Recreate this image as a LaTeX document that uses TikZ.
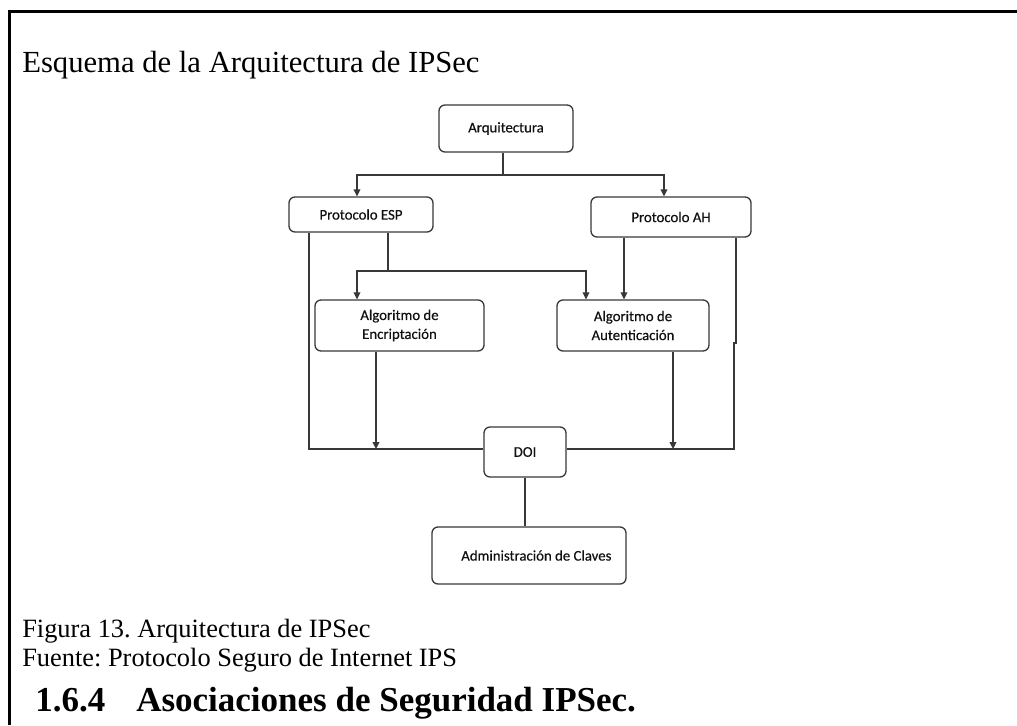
\documentclass[tikz,border=0pt]{standalone}
\usepackage{fontspec}
\setmainfont{Liberation Serif}
\newfontfamily\boxfont[FakeBold=0.35]{Carlito}
\usetikzlibrary{arrows.meta,calc}
\definecolor{linegray}{HTML}{383838}
\definecolor{boxtext}{HTML}{111111}
\frenchspacing
\begin{document}
\begin{tikzpicture}[x=0.75pt,y=-0.75pt,
  box/.style={draw=linegray, line width=1pt, rounded corners=4.5pt,
    font=\boxfont\fontsize{11.1}{14.2}\selectfont, align=center,
    inner sep=0pt, text=boxtext},
  link/.style={draw=linegray, line width=1pt},
  arr/.style={link, -{Triangle[length=5.2pt,width=5pt]}},
  txt/.style={anchor=base west, inner sep=0pt, text=black},
]
\useasboundingbox (0,0) rectangle (1017,725);
\fill[white] (0,0) rectangle (1017,725);
% page frame (top and left edges)
\draw[line width=1.9pt] (9.7,725) -- (9.7,11.5) -- (1017,11.5);

% headings and captions
\node[txt, font=\fontsize{23}{28}\selectfont] (title) at (22,72) {Esquema de la Arquitectura de IPSec};
\node[txt, font=\fontsize{19.8}{24}\selectfont] (cap) at (22,637) {Figura 13. Arquitectura de IPSec};
\node[txt, font=\fontsize{19.8}{24}\selectfont] (src) at (22,666) {Fuente: Protocolo Seguro de Internet IPS};
\node[txt, font=\bfseries\fontsize{26.25}{30}\selectfont] (secnum) at (35,711) {1.6.4};
\node[txt, font=\bfseries\fontsize{26.25}{30}\selectfont] (sectitle) at (136,711) {Asociaciones de Seguridad IPSec.};

% boxes
\node[box, minimum width=100.5pt, minimum height=35.25pt] (arq) at (506,128.5) {Arquitectura};
\node[box, minimum width=108pt, minimum height=26.25pt] (esp) at (361,214.5) {Protocolo ESP};
\node[box, minimum width=120pt, minimum height=30pt] (ah) at (671,217) {Protocolo AH};
\node[box, minimum width=126.75pt, minimum height=38.25pt] (enc) at (399.5,325.5) {Algoritmo de\\Encriptación};
\node[box, minimum width=114pt, minimum height=38.25pt] (aut) at (633,325.5) {Algoritmo de\\Autenticación};
\node[box, minimum width=61.5pt, minimum height=37.5pt] (doi) at (525,452) {DOI};
\node[box, minimum width=145.5pt, minimum height=42.75pt] (adm) at (529,555.5) {\hspace*{11pt}Administración de Claves};

% Arquitectura -> protocols
\coordinate (j1) at (503,175);
\draw[link] (arq.south -| j1) -- (j1);
\draw[arr] (j1) -| ($(esp.north)+(-4,0)$);
\draw[arr] (j1) -| ($(ah.north)+(-7,0)$);

% ESP -> DOI (outer left line)
\coordinate (j2) at (309,449);
\draw[link] (esp.south -| j2) -- (j2) -- (doi.west |- j2);

% ESP -> both algorithms
\coordinate (j3) at (388,271);
\draw[link] (esp.south -| j3) -- (j3);
\draw[arr] (j3) -| ($(enc.north)+(-42.5,0)$);
\draw[arr] (j3) -| ($(aut.north)+(-47,0)$);

% AH -> authentication
\coordinate (j4) at (624,300);
\draw[arr] (ah.south -| j4) -- (aut.north -| j4);

% AH -> DOI (outer right line)
\coordinate (j5) at (736,343);
\coordinate (j6) at (734,449);
\draw[link] (ah.south -| j5) -- (j5) -- (j5 -| j6) -- (j6) -- (doi.east |- j6);

% algorithms -> DOI line
\coordinate (e1) at (376,449);
\coordinate (e2) at (673,449);
\draw[arr] (enc.south -| e1) -- (e1);
\draw[arr] (aut.south -| e2) -- (e2);

% DOI -> key management
\draw[link] (doi.south) -- (adm.north -| doi.south);
\end{tikzpicture}
\end{document}
